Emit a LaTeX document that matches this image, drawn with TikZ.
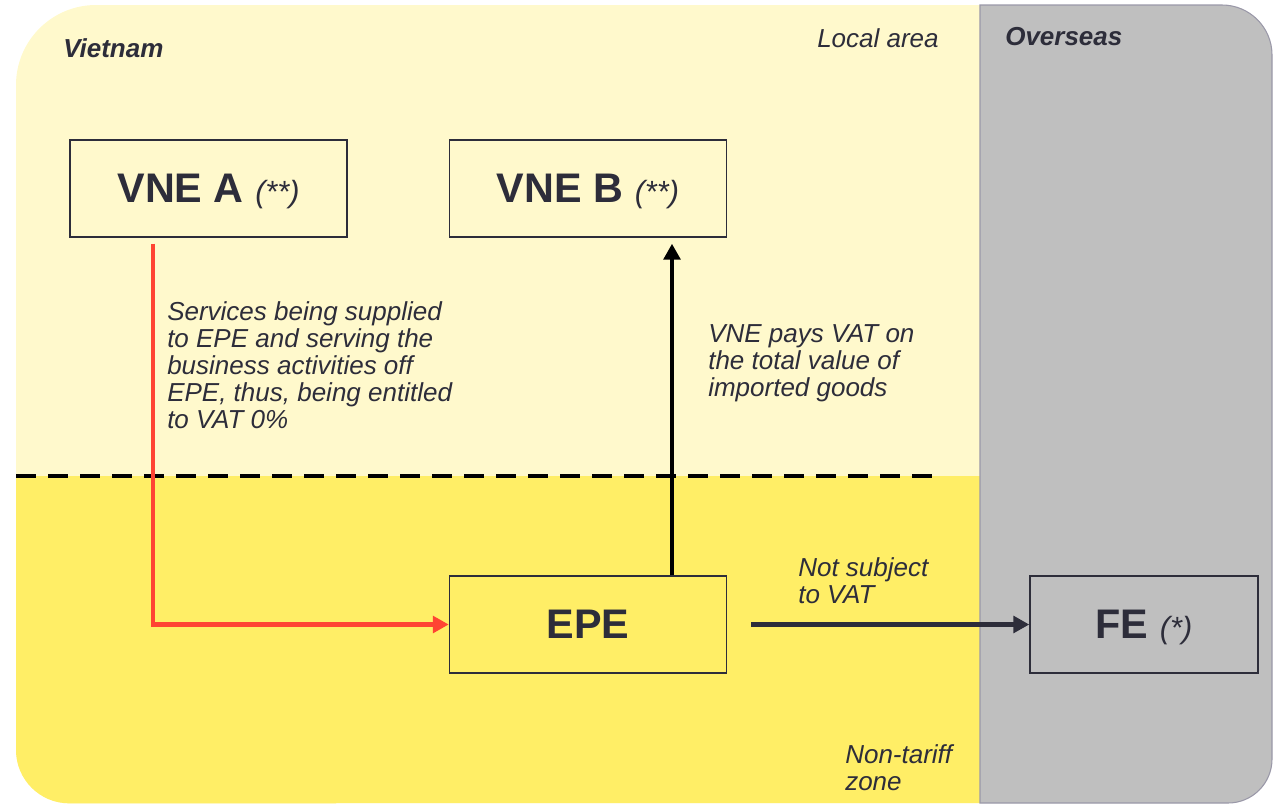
\documentclass[tikz,border=0pt]{standalone}
\usepackage{fontspec}
\setmainfont{Liberation Sans}
\usetikzlibrary{arrows.meta}

\definecolor{localbg}{HTML}{FFF9CC}
\definecolor{zonebg}{HTML}{FFEE66}
\definecolor{overseasbg}{HTML}{BFBFBF}
\definecolor{edgegray}{HTML}{9A98A8}
\definecolor{inkdark}{HTML}{2D2D3A}
\definecolor{svcred}{HTML}{FF4433}

\newcommand{\entnote}[1]{{\mdseries\itshape\fontsize{23}{25}\selectfont #1}}

\begin{document}
\begin{tikzpicture}[x=0.75pt, y=-0.75pt,
    entity/.style={draw=inkdark, line width=1.1pt, inner sep=0pt,
        minimum width=207.75pt, minimum height=72.75pt, text depth=0pt,
        text=inkdark, font=\fontsize{31}{34}\selectfont\bfseries},
    note/.style={inner sep=0pt, anchor=north west, align=left, text=inkdark,
        font=\fontsize{19.5}{20.25}\selectfont\itshape},
    region/.style={inner sep=0pt, anchor=base west, text=inkdark,
        font=\fontsize{19.5}{20.25}\selectfont\itshape},
    flow/.style={line width=3.6pt, -{Triangle[length=12pt,width=12.5pt]}}]
    \useasboundingbox (0,0) rectangle (1276,803);

    % Backgrounds
    \fill[localbg] (980,5) -- (96,5) arc[start angle=90, end angle=180, radius=60pt]
        -- (16,750) arc[start angle=180, end angle=270, radius=40pt] -- (980,803) -- cycle;
    \fill[zonebg] (980,476) -- (16,476)
        -- (16,750) arc[start angle=180, end angle=270, radius=40pt] -- (980,803) -- cycle;
    \filldraw[fill=overseasbg, draw=edgegray, line width=0.8pt] (980,5) -- (1222,5)
        arc[start angle=90, end angle=0, radius=37.5pt]
        -- (1272,759) arc[start angle=0, end angle=-90, radius=33pt] -- (980,803) -- cycle;
    \draw[line width=3pt, dash pattern=on 15pt off 9pt] (16,476) -- (942,476);

    % Area labels
    \node[region, font=\fontsize{19.5}{20.25}\selectfont\bfseries\itshape] (vn_label) at (63,57) {Vietnam};
    \node[region] (local_label) at (817,47) {Local area};
    \node[region, font=\fontsize{19.5}{20.25}\selectfont\bfseries\itshape] (os_label) at (1005,45) {Overseas};
    \node[note] (ntz_label) at (845,744) {Non-tariff\\zone};

    % Entities
    \node[entity] (vnea) at (208.5,188.5) {VNE A \entnote{(**)}};
    \node[entity] (vneb) at (588,188.5) {VNE B \entnote{(**)}};
    \node[entity] (epe) at (588,624.5) {EPE};
    \node[entity, minimum width=171pt] (fe) at (1144,624.5) {FE \entnote{(*)}};

    % Flows
    \coordinate (svc_x) at (153,0);
    \coordinate (imp_x) at (672,0);
    \draw[flow, svcred, shorten <=4.5pt] (vnea.south -| svc_x) |- (epe.west);
    \draw[flow, black, shorten >=4.5pt] (epe.north -| imp_x) -- (vneb.south -| imp_x);
    \draw[flow, inkdark, shorten <=18pt] (epe.east) -- (fe.west);

    \node[note] (svc_label) at (167,301) {Services being supplied\\to EPE and serving the\\business activities off\\EPE, thus, being entitled\\to VAT 0\%};
    \node[note] (imp_label) at (708,324.5) {VNE pays VAT on\\the total value of\\imported goods};
    \node[note] (vat_label) at (798,557) {Not subject\\to VAT};
\end{tikzpicture}
\end{document}
